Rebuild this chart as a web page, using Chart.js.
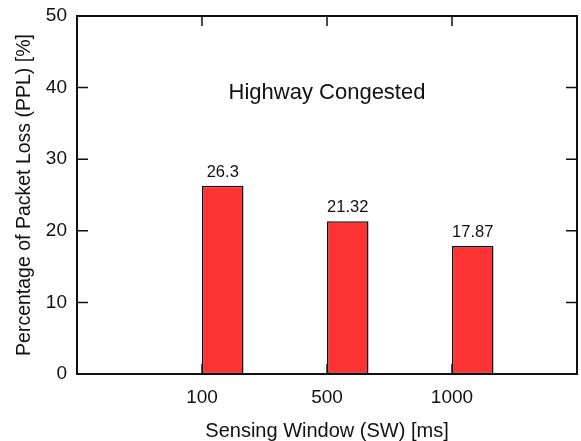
<!DOCTYPE html>
<html>
<head>
<meta charset="utf-8">
<script src="https://cdn.jsdelivr.net/npm/chart.js@4/dist/chart.umd.min.js"></script>
<style>
  html, body { margin: 0; padding: 0; background: #fff; }
  #wrap { width: 581px; height: 441px; }
</style>
</head>
<body>
<div id="wrap"><canvas id="chart-loss"></canvas></div>
<script>
const windows = ['100', '500', '1000'];
const windowPos = [1, 2, 3];
const packetLoss = [26.3, 21.32, 17.87];
const yTicks = [0, 10, 20, 30, 40, 50];
const panelTitle = 'Highway Congested';

const FONT = "'Liberation Sans', Arial, sans-serif";

// gnuplot-like border with inward ticks, value labels and the panel title
const framePlugin = {
  id: 'frame',
  afterDatasetsDraw(chart) {
    const { ctx, chartArea: a, scales: { x, y } } = chart;
    ctx.save();
    ctx.strokeStyle = '#111';
    ctx.lineWidth = 1.5;
    ctx.beginPath();
    windowPos.forEach((v) => {
      const px = x.getPixelForValue(v);
      ctx.moveTo(px, a.bottom); ctx.lineTo(px, a.bottom - 10);
      ctx.moveTo(px, a.top); ctx.lineTo(px, a.top + 10);
    });
    yTicks.forEach((v) => {
      const py = y.getPixelForValue(v);
      ctx.moveTo(a.left, py); ctx.lineTo(a.left + 11, py);
      ctx.moveTo(a.right, py); ctx.lineTo(a.right - 11, py);
    });
    ctx.stroke();
    ctx.lineWidth = 2;
    ctx.strokeRect(a.left, a.top, a.right - a.left, a.bottom - a.top);

    ctx.fillStyle = '#111';
    ctx.textAlign = 'center';
    ctx.textBaseline = 'alphabetic';
    ctx.font = '16.5px ' + FONT;
    chart.getDatasetMeta(1).data.forEach((bar, i) => {
      ctx.fillText(String(packetLoss[i]), bar.x, bar.y - 9);
    });

    ctx.font = '22px ' + FONT;
    ctx.fillText(panelTitle, x.getPixelForValue(2), a.top + 83);
    ctx.restore();
  },
};

// keep the plot box where the reference has it
const noPad = (scale) => {
  scale.paddingTop = 0;
  scale.paddingBottom = 0;
  scale.paddingLeft = 0;
  scale.paddingRight = 0;
};

const chart = new Chart(document.getElementById('chart-loss'), {
  type: 'bar',
  data: {
    datasets: [
      {
        // empty slot so the real bar sits to the right of its tick
        label: '',
        data: [],
      },
      {
        label: 'PPL',
        backgroundColor: '#ff3333',
        borderColor: '#111',
        borderWidth: 1.5,
        borderSkipped: false,
        barPercentage: 1,
        categoryPercentage: 0.664,
        data: windowPos.map((p, i) => ({ x: p, y: packetLoss[i] })),
      },
    ],
  },
  options: {
    responsive: true,
    maintainAspectRatio: false,
    animation: false,
    layout: { padding: { top: 16, right: 4, left: 0, bottom: 0 } },
    plugins: {
      legend: { display: false },
      tooltip: { enabled: false },
    },
    scales: {
      x: {
        type: 'linear',
        min: 0,
        max: 4,
        offset: false,
        grid: { display: false, drawTicks: false },
        border: { display: false },
        afterFit: (scale) => { scale.height = 67; noPad(scale); },
        ticks: {
          stepSize: 1,
          autoSkip: false,
          maxRotation: 0,
          padding: 12,
          color: '#111',
          font: { family: FONT, size: 19 },
          callback: (v) => {
            const i = windowPos.indexOf(v);
            return i >= 0 ? windows[i] : '';
          },
        },
        title: {
          display: true,
          text: 'Sensing Window (SW) [ms]',
          color: '#111',
          font: { family: FONT, size: 20, lineHeight: 1 },
          padding: { top: 0, bottom: 0 },
        },
      },
      y: {
        min: 0,
        max: 50,
        grid: { display: false, drawTicks: false },
        border: { display: false },
        afterFit: (scale) => { scale.width = 77; noPad(scale); },
        ticks: {
          stepSize: 10,
          padding: 10,
          color: '#111',
          font: { family: FONT, size: 19 },
        },
        title: {
          display: true,
          text: 'Percentage of Packet Loss (PPL) [%]',
          color: '#111',
          font: { family: FONT, size: 19.5, lineHeight: 1 },
          padding: { top: 14.5, bottom: 0 },
        },
      },
    },
  },
  plugins: [framePlugin],
});
</script>
</body>
</html>
